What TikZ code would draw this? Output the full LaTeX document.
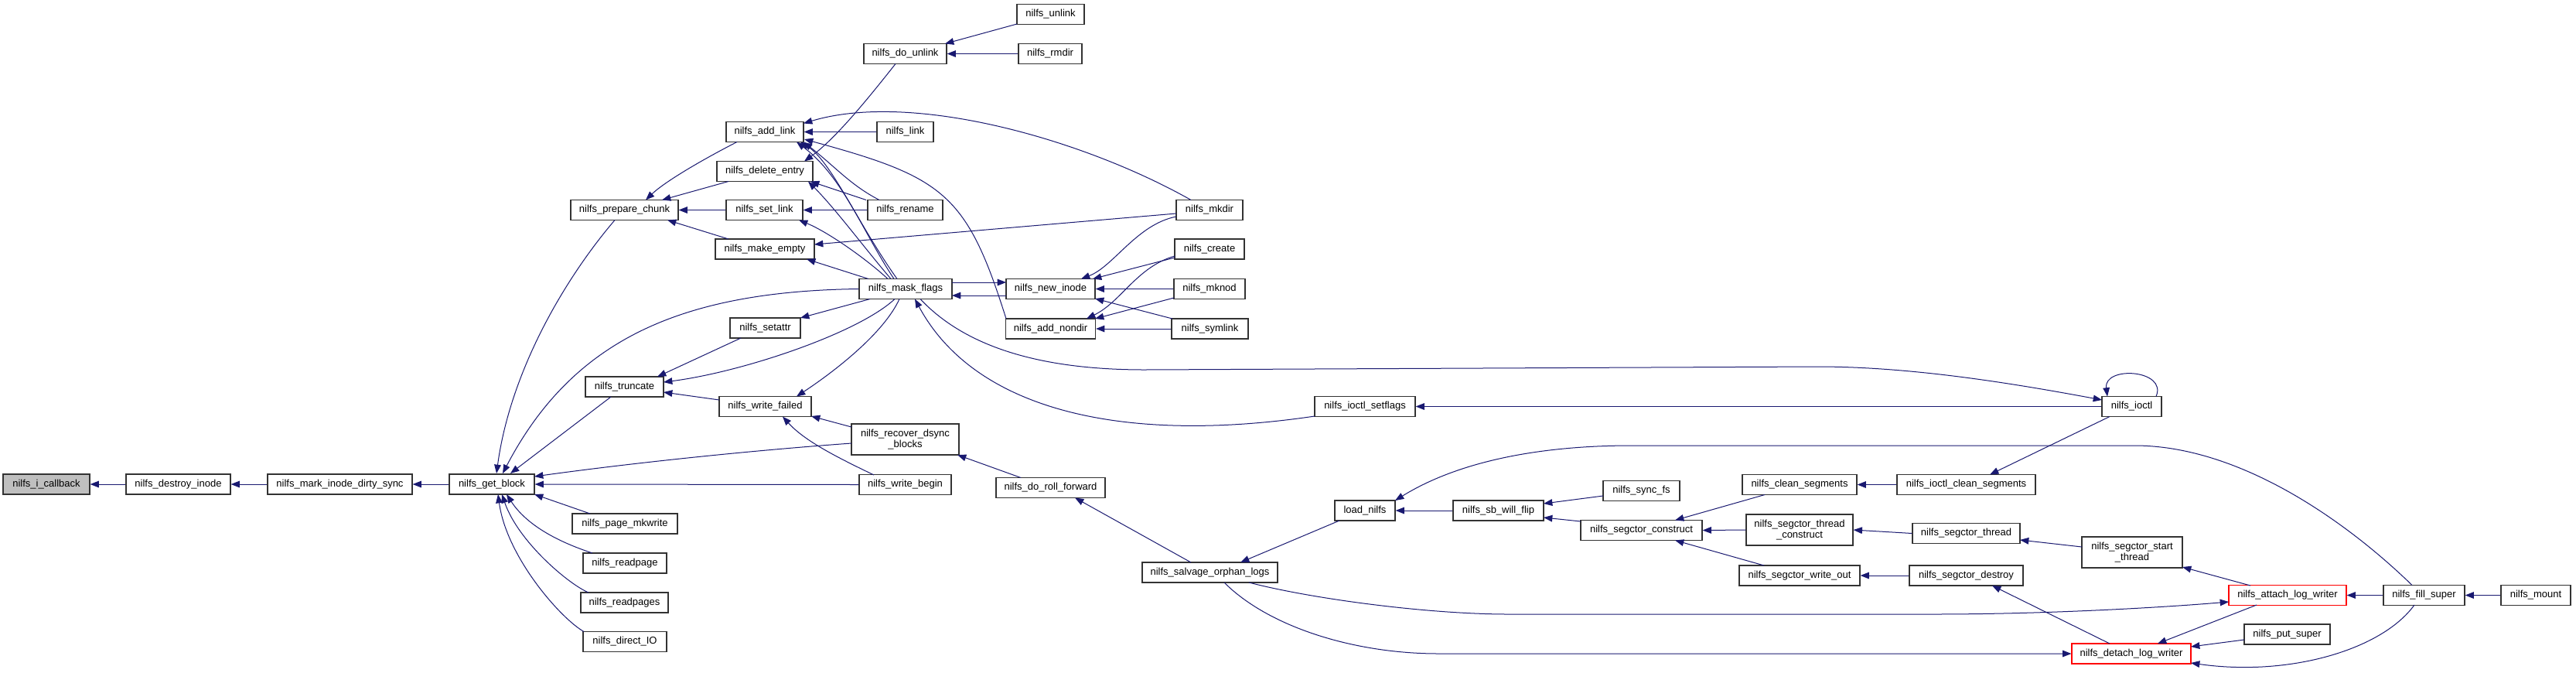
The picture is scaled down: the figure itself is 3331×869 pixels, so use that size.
\documentclass[tikz,border=0pt]{standalone}
\usepackage{fontspec}
\setmainfont{Liberation Sans}
\usetikzlibrary{arrows.meta,calc}
\definecolor{edgeblue}{HTML}{191970}
\definecolor{boxgrey}{HTML}{BFBFBF}
\definecolor{boxline}{HTML}{333333}
\tikzset{
  fn/.style={draw=boxline, line width=0.9pt, fill=white, inner sep=0pt,
    minimum height=19.5pt, font=\fontsize{9.75}{10.8}\selectfont, align=center},
  fntwo/.style={fn, minimum height=30pt},
  hot/.style={draw=red},
  rootfn/.style={fill=boxgrey},
  call/.style={draw=edgeblue, line width=0.75pt, -{Triangle[length=8.5pt,width=6.5pt]}},
}
\begin{document}
\begin{tikzpicture}[x=0.75pt,y=-0.75pt]
\path[use as bounding box] (0,0) rectangle (3331,869);

% column 0-3
\node[fn,rootfn,minimum width=84pt] (cb) at (60,626) {nilfs\_i\_callback};
\node[fn,minimum width=101.25pt] (destroy) at (230.5,626) {nilfs\_destroy\_inode};
\node[fn,minimum width=140.25pt] (mark) at (439.5,626) {nilfs\_mark\_inode\_dirty\_sync};
\node[fn,minimum width=82.5pt] (getblock) at (636,626) {nilfs\_get\_block};
% column 4
\node[fn,minimum width=104.25pt] (prep) at (807.5,271.5) {nilfs\_prepare\_chunk};
\node[fn,minimum width=75.75pt] (trunc) at (807.5,500) {nilfs\_truncate};
\node[fn,minimum width=102pt] (mkwrite) at (808,677) {nilfs\_page\_mkwrite};
\node[fn,minimum width=81pt] (readpage) at (808,728) {nilfs\_readpage};
\node[fn,minimum width=84.75pt] (readpages) at (807.5,779) {nilfs\_readpages};
\node[fn,minimum width=81pt] (directio) at (808,829.5) {nilfs\_direct\_IO};
% column 5
\node[fn,minimum width=75pt] (addlink) at (989,170.5) {nilfs\_add\_link};
\node[fn,minimum width=93pt] (delentry) at (989,221.5) {nilfs\_delete\_entry};
\node[fn,minimum width=74.25pt] (setlink) at (988.5,271.5) {nilfs\_set\_link};
\node[fn,minimum width=96pt] (mkempty) at (989,322) {nilfs\_make\_empty};
\node[fn,minimum width=68.25pt] (setattr) at (989.5,424) {nilfs\_setattr};
\node[fn,minimum width=89.25pt] (wfailed) at (989.5,525.5) {nilfs\_write\_failed};
% column 6
\node[fn,minimum width=80.25pt] (dounlink) at (1170.5,69.5) {nilfs\_do\_unlink};
\node[fn,minimum width=54.75pt] (link) at (1170.5,170.5) {nilfs\_link};
\node[fn,minimum width=72.75pt] (rename) at (1170.5,271.5) {nilfs\_rename};
\node[fn,minimum width=90pt] (maskflags) at (1171,373.5) {nilfs\_mask\_flags};
\node[fntwo,minimum width=104.25pt] (recover) at (1170.5,568) {nilfs\_recover\_dsync\\\_blocks};
\node[fn,minimum width=89.25pt] (wbegin) at (1170.5,626.5) {nilfs\_write\_begin};
% column 7
\node[fn,minimum width=65.25pt] (unlink) at (1358.5,18.5) {nilfs\_unlink};
\node[fn,minimum width=61.5pt] (rmdir) at (1358,69.5) {nilfs\_rmdir};
\node[fn,minimum width=86.25pt] (newinode) at (1358.5,373.5) {nilfs\_new\_inode};
\node[fn,minimum width=87pt] (addnondir) at (1358.5,425) {nilfs\_add\_nondir};
\node[fn,minimum width=105.75pt] (roll) at (1358.5,630.5) {nilfs\_do\_roll\_forward};
% column 8
\node[fn,minimum width=64.5pt] (mkdir) at (1564,271.5) {nilfs\_mkdir};
\node[fn,minimum width=67.5pt] (create) at (1564,322) {nilfs\_create};
\node[fn,minimum width=69pt] (mknod) at (1564,373.5) {nilfs\_mknod};
\node[fn,minimum width=74.25pt] (symlink) at (1564.5,425) {nilfs\_symlink};
\node[fn,minimum width=131.25pt] (salvage) at (1564.5,740) {nilfs\_salvage\_orphan\_logs};
% column 9-10
\node[fn,minimum width=97.5pt] (setflags) at (1765,525.5) {nilfs\_ioctl\_setflags};
\node[fn,minimum width=58.5pt] (loadnilfs) at (1765,660) {load\_nilfs};
\node[fn,minimum width=87.75pt] (sbflip) at (1937.5,660) {nilfs\_sb\_will\_flip};
% column 11
\node[fn,minimum width=74.25pt] (syncfs) at (2122.5,634.5) {nilfs\_sync\_fs};
\node[fn,minimum width=117.75pt] (construct) at (2122.5,685.5) {nilfs\_segctor\_construct};
% column 12
\node[fn,minimum width=111pt] (cleanseg) at (2327,626.5) {nilfs\_clean\_segments};
\node[fntwo,minimum width=103.5pt] (threadcons) at (2327,685) {nilfs\_segctor\_thread\\\_construct};
\node[fn,minimum width=117pt] (writeout) at (2327,744) {nilfs\_segctor\_write\_out};
% column 13
\node[fn,minimum width=134.25pt] (ioctlclean) at (2542.5,626.5) {nilfs\_ioctl\_clean\_segments};
\node[fn,minimum width=104.25pt] (sthread) at (2542.5,689.5) {nilfs\_segctor\_thread};
\node[fn,minimum width=110.25pt] (sdestroy) at (2542.5,744) {nilfs\_segctor\_destroy};
% column 14
\node[fn,minimum width=57.75pt] (ioctl) at (2756.5,525.5) {nilfs\_ioctl};
\node[fntwo,minimum width=97.5pt] (startthread) at (2757,714) {nilfs\_segctor\_start\\\_thread};
\node[fn,hot,minimum width=115.5pt] (detach) at (2756,845) {nilfs\_detach\_log\_writer};
% column 15-17
\node[fn,hot,minimum width=114pt] (attach) at (2958,769.5) {nilfs\_attach\_log\_writer};
\node[fn,minimum width=83.25pt] (putsuper) at (2957.5,820) {nilfs\_put\_super};
\node[fn,minimum width=78.75pt] (fillsuper) at (3134.5,769.5) {nilfs\_fill\_super};
\node[fn,minimum width=67.5pt] (mount) at (3279,769.5) {nilfs\_mount};

% ---- connectors (arrow at the called function) ----
\draw[call] (destroy.west) -- (cb.east);
\draw[call] (mark.west) -- (destroy.east);
\draw[call] (getblock.west) -- (mark.east);
\draw[call] ($(prep)+(-12.5,13)$) .. controls +(-65,76) and +(18,-132) .. ($(getblock)+(6,-14)$);
\draw[call] (maskflags.west) .. controls +(-231,3) and +(90,-172) .. ($(getblock)+(14,-14)$);
\draw[call] ($(trunc)+(-17.5,13)$) -- ($(getblock)+(24,-14)$);
\draw[call] ($(wfailed)+(-59.5,-8.5)$) -- ($(trunc)+(50.5,7)$);
\draw[call] ($(setattr)+(-31.5,13)$) -- ($(trunc)+(42.5,-13)$);
\draw[call] ($(maskflags)+(-14,13)$) .. controls +(-47,44) and +(102,-13) .. ($(trunc)+(50.5,-6)$);
\draw[call] ($(maskflags)+(-8,13)$) .. controls +(-20,44) and +(50,-33) .. ($(wfailed)+(40.5,-13)$);
\draw[call] ($(recover)+(-69.5,-16)$) -- ($(wfailed)+(59.5,12.5)$);
\draw[call] ($(wbegin)+(-40.5,-12.5)$) .. controls +(-50,-24) and +(28,31) .. ($(wfailed)+(22.5,13)$);
\draw[call] ($(recover)+(-69.5,5)$) .. controls +(-151,11) and +(108,-15) .. ($(getblock)+(55,-10)$);
\draw[call] (wbegin.west) -- (getblock.east);
\draw[call] ($(mkwrite)+(-45,-13)$) -- ($(getblock)+(55,13)$);
\draw[call] ($(readpage)+(-42,-13)$) .. controls +(-30,-10) and +(30,46) .. ($(getblock)+(19,13)$);
\draw[call] ($(readpages)+(-46.5,-13)$) .. controls +(-26,-11) and +(21,61) .. ($(getblock)+(13,13)$);
\draw[call] ($(directio)+(-53,-13)$) .. controls +(-30,-17) and +(11,81) .. ($(getblock)+(8,13)$);

\draw[call] ($(addlink)+(-36,13)$) .. controls +(-43,22) and +(25,-24) .. ($(prep)+(27.5,-13)$);
\draw[call] ($(delentry)+(-47,13)$) -- ($(prep)+(48.5,-13)$);
\draw[call] (setlink.west) -- (prep.east);
\draw[call] ($(mkempty)+(-47,-13)$) -- ($(prep)+(55.5,13)$);
\draw[call] ($(dounlink)+(-12.5,13)$) .. controls +(-38,48) and +(40,-29) .. ($(delentry)+(51,-13)$);
\draw[call] ($(unlink)+(-43.5,12.5)$) -- ($(dounlink)+(51.5,-13)$);
\draw[call] (rmdir.west) -- (dounlink.east);
\draw[call] (link.west) -- (addlink.east);
\draw[call] ($(mkdir)+(-24,-13)$) .. controls +(-140,-79) and +(140,-42) .. ($(addlink)+(50,-11)$);
\draw[call] ($(rename)+(-33.5,-13)$) .. controls +(-37,-19) and +(41,32) .. ($(addlink)+(50,13)$);
\draw[call] ($(rename)+(-50.5,-13)$) -- ($(delentry)+(59,13)$);
\draw[call] (rename.west) -- (setlink.east);
\draw[call] ($(maskflags)+(-15,-13)$) .. controls +(-40,-60) and +(60,45) .. ($(addlink)+(41,13)$);
\draw[call] ($(maskflags)+(-11,-13)$) .. controls +(-50,-70) and +(40,25) .. ($(addlink)+(46,13)$);
\draw[call] ($(maskflags)+(-19,-13)$) .. controls +(-35,-41) and +(35,35) .. ($(delentry)+(56,13)$);
\draw[call] ($(maskflags)+(-23,-13)$) .. controls +(-28,-26) and +(37,15) .. ($(setlink)+(44.5,13)$);
\draw[call] ($(maskflags)+(-48,-13)$) -- ($(mkempty)+(54,13)$);
\draw[call] ($(mkdir)+(-43,4.5)$) -- ($(mkempty)+(64,-6)$);
\draw[call] ($(addnondir)+(-57.5,-13)$) .. controls +(-51,-162) and +(180,49) .. ($(addlink)+(51,9.5)$);

\draw[call] ($(maskflags)+(60,-8.5)$) -- ($(newinode)+(-57.5,-8.5)$);
\draw[call] ($(newinode)+(-57.5,8.5)$) -- ($(maskflags)+(60,8.5)$);
\draw[call] ($(mkdir)+(-43,8.5)$) .. controls +(-51,10) and +(42,-16) .. ($(newinode)+(39.5,-13)$);
\draw[call] ($(create)+(-45,11)$) -- ($(newinode)+(54.5,-13)$);
\draw[call] (mknod.west) -- (newinode.east);
\draw[call] ($(symlink)+(-48.5,-13)$) -- ($(newinode)+(57.5,12.5)$);
\draw[call] ($(create)+(-45,9)$) .. controls +(-49,14) and +(45,-22) .. ($(addnondir)+(46.5,-13)$);
\draw[call] ($(mknod)+(-46,11.5)$) -- ($(addnondir)+(57.5,-13)$);
\draw[call] (symlink.west) -- (addnondir.east);
\draw[call] ($(maskflags)+(-46,13)$) -- ($(setattr)+(45.5,-13)$);

\draw[call] ($(maskflags)+(19,13)$) .. controls +(60,64) and +(-130,0) .. ($(maskflags)+(309,104.5)$)
   -- ($(ioctl)+(-406.5,-51.5)$) .. controls +(120,0) and +(-118,-22) .. ($(ioctl)+(-38.5,-8.5)$);
\draw[call] ($(setflags)+(-65,12.5)$) .. controls +(-250,37) and +(77,143) .. ($(maskflags)+(12,13)$);
\draw[call] (ioctl.west) -- (setflags.east);
\draw[call] ($(ioctl)+(31.5,-13)$) .. controls +(15,-35) and +(-5,-40) .. ($(ioctl)+(-31.5,-13)$);
\draw[call] ($(ioctl)+(-28.5,13)$) -- ($(ioctlclean)+(30.5,-13)$);

\draw[call] ($(fillsuper)+(-15.5,-13)$) .. controls +(-79,-77) and +(140,0) .. ($(fillsuper)+(-374.5,-193.5)$)
   -- ($(loadnilfs)+(345,-84)$) .. controls +(-130,0) and +(76,-47) .. ($(loadnilfs)+(39,-13)$);
\draw[call] (sbflip.west) -- (loadnilfs.east);
\draw[call] ($(syncfs)+(-49.5,6.5)$) -- ($(sbflip)+(58.5,-9)$);
\draw[call] ($(construct)+(-78.5,-11.5)$) -- ($(sbflip)+(58.5,9)$);
\draw[call] ($(cleanseg)+(-45,13)$) -- ($(construct)+(43.5,-13)$);
\draw[call] (threadcons.west) -- (construct.east);
\draw[call] ($(writeout)+(-46,-13)$) -- ($(construct)+(43.5,13)$);
\draw[call] (ioctlclean.west) -- (cleanseg.east);
\draw[call] (sthread.west) -- (threadcons.east);
\draw[call] (sdestroy.west) -- (writeout.east);

\draw[call] ($(loadnilfs)+(-33,13)$) -- ($(salvage)+(39.5,-13)$);
\draw[call] ($(salvage)+(-24.5,-13)$) -- ($(roll)+(31.5,13)$);
\draw[call] ($(roll)+(-38.5,-13)$) -- ($(recover)+(67.5,20)$);
\draw[call] ($(salvage)+(50.5,13)$) .. controls +(85,22) and +(-100,0) .. ($(salvage)+(385.5,54)$)
   -- ($(attach)+(-458,24.5)$) .. controls +(150,0) and +(-82,7) .. ($(attach)+(-76,8.5)$);
\draw[call] ($(salvage)+(18.5,13)$) .. controls +(57,57) and +(-110,0) .. ($(detach)+(-896,0)$) -- (detach.west);

\draw[call] ($(startthread)+(-65,-7)$) -- ($(sthread)+(69.5,8.5)$);
\draw[call] ($(attach)+(-48,-12.5)$) -- ($(startthread)+(65,19)$);
\draw[call] ($(attach)+(-40,12.5)$) -- ($(detach)+(34,-13)$);
\draw[call] ($(detach)+(-28,-13)$) -- ($(sdestroy)+(33.5,13)$);
\draw[call] (fillsuper.west) -- (attach.east);
\draw[call] (mount.west) -- (fillsuper.east);
\draw[call] ($(putsuper)+(-55.5,7)$) -- ($(detach)+(77,-9)$);
\draw[call] ($(fillsuper)+(-12.5,12.5)$) .. controls +(-42,58) and +(127,18) .. ($(detach)+(77,12)$);
\end{tikzpicture}
\end{document}
